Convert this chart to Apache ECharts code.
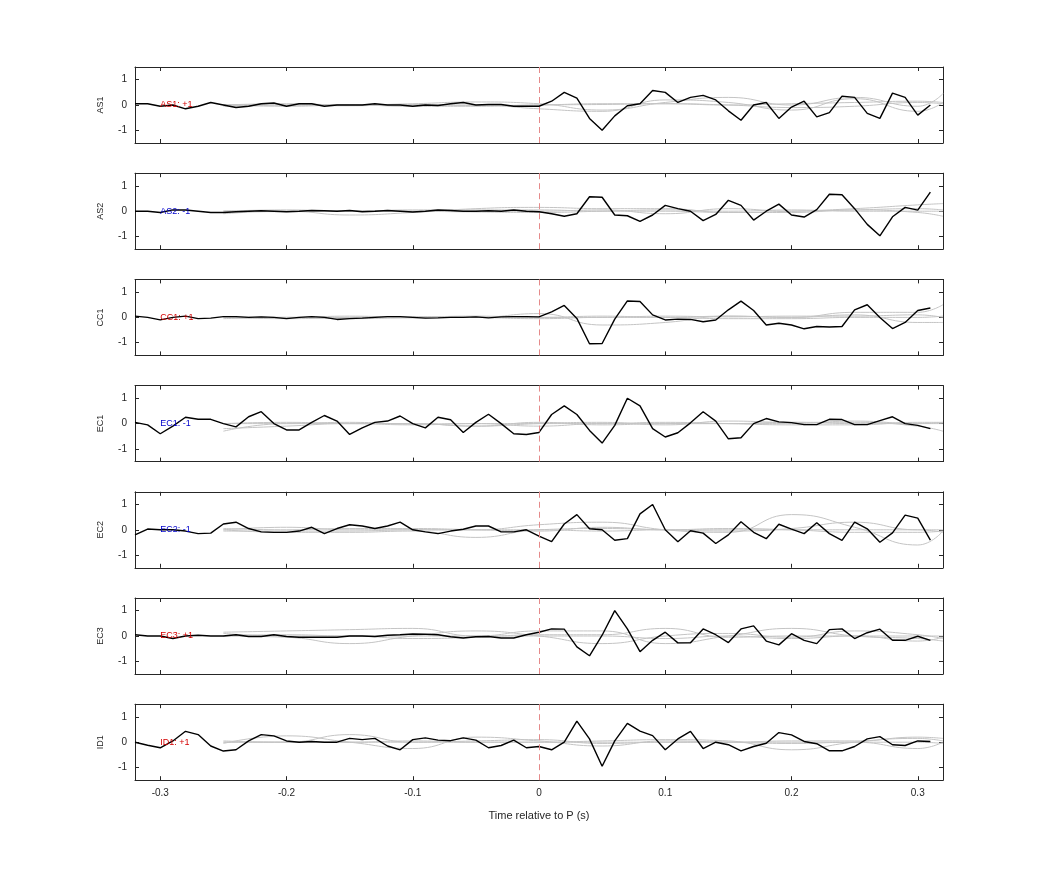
<!DOCTYPE html>
<html>
<head>
<meta charset="utf-8">
<title>Stations</title>
<script src="https://cdn.jsdelivr.net/npm/echarts@6/dist/echarts.min.js"></script>
<style>html,body{margin:0;background:#fff}#chart{width:1042px;height:875px}</style>
</head>
<body>
<div id="chart"></div>
<script>
// stations and polarity labels
var stations = ['AS1', 'AS2', 'CC1', 'EC1', 'EC2', 'EC3', 'ID1'];
var polarity = ['+1', '-1', '+1', '-1', '-1', '+1', '+1'];
var xTicks = [-0.3, -0.2, -0.1, 0, 0.1, 0.2, 0.3];

// sample times -0.32 .. 0.31 (s)
var times = [];
for (var i = -32; i <= 31; i++) times.push(i / 100);
// times of the grey (smooth) traces
var greyTimes = [-0.25, -0.2, -0.15, -0.1, -0.05, 0, 0.05, 0.1, 0.15, 0.2, 0.25, 0.3, 0.32];

// black traces, 64 samples each
var as1 = [0.05,0.05,-0.05,0.0,-0.15,-0.05,0.1,0.0,-0.1,-0.05,0.05,0.08,-0.05,0.05,0.05,-0.05,0.0,0.0,0.0,0.05,0.0,0.0,-0.05,0.0,-0.02,0.05,0.1,0.0,0.02,0.02,-0.05,-0.05,-0.05,
  0.15,0.5,0.27,-0.53,-1.0,-0.43,-0.03,0.05,0.57,0.5,0.1,0.3,0.38,0.2,-0.23,-0.6,0,0.1,-0.53,-0.08,0.15,-0.47,-0.3,0.35,0.3,-0.33,-0.53,0.47,0.3,-0.4,0];
var as2 = [0.0,0.0,-0.05,0.05,0.05,0.0,-0.05,-0.05,-0.02,0.0,0.02,0.0,-0.02,0.0,0.03,0.02,0.0,0.03,-0.02,0.0,0.03,0.0,-0.03,0.0,0.05,0.03,0.0,0.0,0.02,0.0,0.05,0.0,-0.02,
  -0.1,-0.2,-0.1,0.57,0.55,-0.15,-0.18,-0.4,-0.15,0.23,0.1,0,-0.37,-0.13,0.43,0.23,-0.35,0,0.28,-0.15,-0.23,0.06,0.67,0.65,0.1,-0.52,-0.97,-0.22,0.15,0.04,0.75];
var cc1 = [0.05,0.0,-0.1,0.0,0.05,-0.05,-0.03,0.03,0.03,0.0,0.02,0.0,-0.05,0.0,0.03,0.0,-0.08,-0.05,-0.03,0.0,0.03,0.03,0.0,-0.03,-0.02,0.0,0.0,0.02,-0.02,0.02,0.03,0.03,0.02,
  0.22,0.47,-0.04,-1.04,-1.03,-0.07,0.65,0.63,0.1,-0.1,-0.07,-0.08,-0.17,-0.1,0.3,0.64,0.27,-0.3,-0.23,-0.3,-0.45,-0.36,-0.38,-0.36,0.3,0.5,0,-0.44,-0.2,0.27,0.37];
var ec1 = [0.05,-0.05,-0.4,-0.1,0.25,0.17,0.17,0.0,-0.13,0.27,0.47,0.0,-0.25,-0.25,0.05,0.32,0.1,-0.43,-0.17,0.05,0.1,0.3,0.0,-0.17,0.25,0.15,-0.35,0.05,0.37,0.0,-0.4,-0.43,-0.35,
  0.36,0.7,0.36,-0.27,-0.77,-0.07,1.0,0.7,-0.2,-0.53,-0.36,0.03,0.47,0.1,-0.6,-0.56,0,0.2,0.07,0.04,-0.04,-0.04,0.17,0.16,-0.04,-0.04,0.12,0.27,0,-0.07,-0.2];
var ec2 = [-0.2,0.03,0.0,0.0,-0.05,-0.15,-0.13,0.23,0.3,0.05,-0.08,-0.1,-0.1,-0.05,0.1,-0.15,0.05,0.2,0.15,0.05,0.15,0.3,0.0,-0.08,-0.15,-0.05,0.02,0.15,0.15,-0.08,-0.08,0.0,-0.25,
  -0.47,0.23,0.6,0.04,0,-0.41,-0.35,0.63,1.0,0,-0.47,-0.04,-0.13,-0.54,-0.2,0.32,-0.1,-0.35,0.22,0.03,-0.15,0.28,-0.15,-0.42,0.3,0.04,-0.49,-0.12,0.58,0.46,-0.41];
var ec3 = [0.05,0.0,0.0,-0.1,0.0,0.03,0.0,0.0,0.05,-0.02,-0.02,0.05,-0.02,-0.05,-0.05,-0.05,-0.05,0.0,0.0,-0.02,0.03,0.05,0.08,0.07,0.05,-0.03,-0.08,-0.03,-0.02,-0.08,-0.08,0.05,0.15,
  0.28,0.27,-0.43,-0.78,0.03,1.0,0.28,-0.62,-0.17,0.15,-0.27,-0.27,0.28,0.05,-0.26,0.28,0.4,-0.2,-0.35,0.09,-0.17,-0.3,0.25,0.28,-0.1,0.13,0.27,-0.17,-0.17,-0.01,-0.17];
var id1 = [0.0,-0.12,-0.22,0.05,0.43,0.3,-0.15,-0.35,-0.3,0.05,0.3,0.25,0.05,0.0,0.03,0.0,0.0,0.15,0.1,0.15,-0.15,-0.3,0.1,0.17,0.08,0.06,0.17,0.08,-0.22,-0.13,0.08,-0.22,-0.17,
  -0.3,0,0.83,0.13,-0.95,0.05,0.74,0.44,0.26,-0.3,0.13,0.43,-0.25,0,-0.1,-0.34,-0.17,-0.04,0.38,0.29,0.03,-0.06,-0.34,-0.34,-0.17,0.13,0.22,-0.1,-0.13,0.05,0.03];
var traces = [as1, as2, cc1, ec1, ec2, ec3, id1];

// grey traces, per station, sampled at greyTimes
var greyAs1 = [[0.0,0.05,0.0,0.05,0.12,0.05,-0.2,0.1,0.3,0.0,0.3,-0.05,0.45],
  [0.0,-0.05,0.0,-0.05,-0.05,0.0,0.02,0.05,0.0,-0.1,-0.05,0.1,0.05],
  [-0.05,0.0,0.02,0.0,0.0,-0.15,-0.25,0.2,0.1,-0.2,0.25,-0.25,0.1],
  [0.02,0.0,-0.03,0.02,-0.02,0.0,0.05,0.05,0.0,0.05,0.1,0.15,0.1]];
var greyAs2 = [[0.0,0.0,-0.15,-0.05,0.1,0.15,0.1,0.1,-0.05,0.0,0.1,0.25,0.3],
  [-0.1,0.0,0.0,0.0,0.0,0.0,0.05,-0.1,0.1,0.0,0.05,0.1,0.05],
  [0.0,0.05,0.0,0.05,0.05,0.05,0.0,0.0,-0.05,-0.05,0.05,-0.05,-0.2],
  [0.0,-0.02,0.02,0.0,-0.03,-0.05,0.0,0.05,0.0,0.05,0.0,0.0,0.0]];
var greyCc1 = [[0.0,0.0,0.05,0.0,0.0,0.15,-0.3,-0.2,0.05,0.0,0.2,0.2,0.5],
  [-0.05,0.0,-0.05,0.0,0.05,0.0,0.05,0.0,0.05,0.0,0.1,-0.2,-0.2],
  [0.0,-0.05,0.0,0.03,0.0,-0.05,0.0,0.0,-0.05,-0.05,0.0,0.0,0.05],
  [0.03,0.0,0.0,-0.02,0.02,0.0,0.0,0.05,0.02,0.05,0.05,0.1,0.0]];
var greyEc1 = [[-0.3,0.0,0.0,-0.05,0.0,-0.1,0.0,0.0,0.0,0.05,0.0,0.0,0.05],
  [0.0,0.05,0.0,0.0,-0.1,0.0,0.05,-0.05,0.1,0.05,0.05,-0.1,-0.3],
  [-0.2,-0.1,0.0,0.0,-0.1,0.05,-0.05,0.0,0.0,0.0,0.1,0.0,0.0],
  [0.0,0.0,0.05,-0.02,0.0,0.0,0.0,0.05,0.0,-0.05,-0.05,0.05,0.05]];
var greyEc2 = [[0.0,0.1,0.0,0.0,0.0,0.2,0.3,0.0,-0.1,0.6,0.1,-0.6,-0.05],
  [0.0,-0.1,-0.1,-0.05,-0.3,0.0,0.05,0.0,-0.05,0.05,0.3,0.0,0.0],
  [-0.05,-0.05,-0.05,0.0,0.0,0.0,-0.05,0.0,0.0,0.0,0.0,0.0,-0.1],
  [0.05,0.0,0.05,0.05,0.0,-0.05,0.1,0.0,0.05,0.0,-0.1,-0.1,-0.05]];
var greyEc3 = [[0.15,0.2,0.25,0.3,0.0,0.2,0.2,-0.3,0.0,0.3,0.0,-0.1,-0.2],
  [0.0,-0.05,-0.3,0.0,0.2,0.0,-0.3,0.0,0.1,-0.05,0.2,0.05,-0.1],
  [0.1,0.0,0.0,-0.1,-0.05,0.05,0.05,0.3,-0.05,0.0,0.0,-0.2,-0.05],
  [0.0,0.05,0.0,0.0,0.0,0.0,0.0,-0.1,0.0,-0.1,0.0,0.0,0.0]];
var greyId1 = [[-0.05,0.25,0.0,-0.25,0.2,0.05,-0.15,0.05,0.0,-0.05,0.0,-0.25,0.0],
  [0.0,0.0,0.3,0.0,0.0,0.0,0.05,0.1,0.05,-0.3,0.0,0.15,0.05],
  [0.05,0.0,0.0,0.05,0.0,0.0,0.0,0.0,0.0,0.0,0.0,0.0,-0.05],
  [0.0,0.0,0.0,0.0,0.05,0.1,-0.05,0.0,0.0,0.05,0.05,0.2,0.15]];
var greys = [greyAs1, greyAs2, greyCc1, greyEc1, greyEc2, greyEc3, greyId1];

var chart = echarts.init(document.getElementById('chart'));
var grids = [], xAxes = [], yAxes = [], series = [], graphics = [];
var top0 = 67, step = 106.2, h = 76;
var font = 'Helvetica, Arial, "Liberation Sans", sans-serif';

stations.forEach(function (name, k) {
    var last = k === stations.length - 1;
    grids.push({left: 135, right: 99, top: top0 + step * k, height: h});
    var xBase = {
        gridIndex: k, type: 'value', min: -0.32, max: 0.32,
        splitLine: {show: false},
        axisLine: {onZero: false, lineStyle: {color: '#262626', width: 1}},
        axisTick: {inside: true, length: 4, lineStyle: {color: '#262626'},
            customValues: xTicks},
        axisLabel: {show: false}
    };
    xAxes.push(Object.assign({}, xBase, {position: 'bottom',
        axisLabel: {show: last, customValues: xTicks, color: '#262626', fontSize: 10, fontFamily: font, margin: 8},
        name: last ? 'Time relative to P (s)' : '', nameLocation: 'middle', nameGap: 30,
        nameTextStyle: {color: '#262626', fontSize: 11, fontFamily: font}}));
    xAxes.push(Object.assign({}, xBase, {position: 'top'}));
    var yBase = {
        gridIndex: k, type: 'value', min: -1.5, max: 1.5,
        splitLine: {show: false},
        axisLine: {show: true, onZero: false, lineStyle: {color: '#262626', width: 1}},
        axisTick: {show: true, inside: true, length: 4, lineStyle: {color: '#262626'},
            customValues: [-1, 0, 1]},
        axisLabel: {show: false}
    };
    yAxes.push(Object.assign({}, yBase, {position: 'left',
        axisLabel: {show: true, customValues: [-1, 0, 1], color: '#262626', fontSize: 10, fontFamily: font, margin: 8},
        name: name, nameLocation: 'middle', nameGap: 30, nameRotate: 90,
        nameTextStyle: {color: '#262626', fontSize: 9, fontFamily: font}}));
    yAxes.push(Object.assign({}, yBase, {position: 'right'}));

    greys[k].forEach(function (g) {
        series.push({
            type: 'line', xAxisIndex: 2 * k, yAxisIndex: 2 * k, smooth: 0.5,
            symbol: 'none', silent: true,
            lineStyle: {color: '#c4c4c4', width: 1},
            data: greyTimes.map(function (t, i) { return [t, g[i]]; })
        });
    });
    series.push({
        type: 'line', xAxisIndex: 2 * k, yAxisIndex: 2 * k, symbol: 'none',
        lineStyle: {color: '#000', width: 1.4},
        data: times.map(function (t, i) { return [t, traces[k][i]]; }),
        markLine: {
            silent: true, symbol: 'none', label: {show: false},
            lineStyle: {color: '#e58a8a', type: [6, 4], width: 1},
            data: [{xAxis: 0}]
        },
        markPoint: {
            symbol: 'rect', symbolSize: 0,
            data: [{coord: [-0.3, 0]}],
            label: {show: true, position: 'right', distance: 0,
                formatter: name + ': ' + polarity[k],
                color: polarity[k] === '+1' ? '#d40000' : '#0000cc',
                fontSize: 9, fontFamily: font}
        }
    });
});

chart.setOption({
    animation: false,
    grid: grids,
    xAxis: xAxes,
    yAxis: yAxes,
    series: series
});
</script>
</body>
</html>
